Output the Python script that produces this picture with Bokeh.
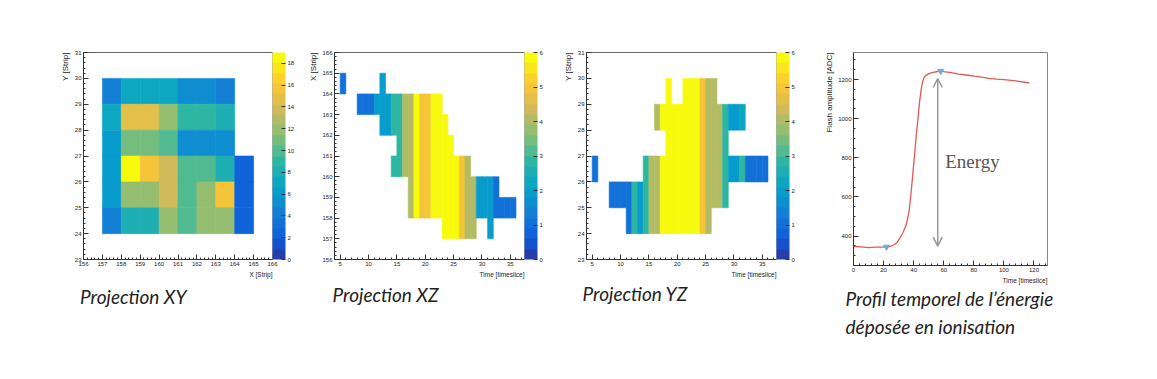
import numpy as np
from bokeh.plotting import figure
from bokeh.models import (Range1d, LinearColorMapper, ColorBar, FixedTicker,
                          SingleIntervalTicker, Label, Arrow, OpenHead, ColumnDataSource, Title)
from bokeh.layouts import row
from bokeh.embed import file_html
from bokeh.resources import INLINE

# ---------------- data ----------------
# Projection XY : rows of strip Y (lower edge), columns start at X strip 157
xy_rows = [29, 28, 27, 26, 25, 24]
xy_x0 = 157
xy_vals = [
    [4.0, 7.0, 7.0, 7.0, 5.0, 5.5, 4.5],
    [7.5, 14.5, 14.5, 12.0, 9.0, 9.0, 8.0],
    [6.5, 11.0, 11.0, 10.0, 5.5, 5.5, 5.0],
    [6.5, 19.0, 16.0, 14.0, 10.0, 10.0, 8.5, 2.0],
    [6.5, 12.0, 12.0, 14.0, 10.0, 12.0, 15.5, 2.0],
    [4.0, 8.5, 8.5, 12.0, 10.0, 12.0, 12.0, 2.0],
]

# Projection XZ : time bin, strip X low/high, charge
xz_t = [5, 8, 9, 10, 11, 12, 13, 14, 14, 15, 16, 17, 18, 19, 20, 21, 22, 23, 24, 25,
        26, 27, 28, 29, 30, 31, 32, 33, 34, 35]
xz_lo = [164, 163, 163, 163, 163, 162, 162, 162, 160, 160, 160, 158, 158, 158, 158, 158, 158, 157, 157, 157,
         157, 157, 157, 158, 158, 157, 158, 158, 158, 158]
xz_hi = [165, 164, 164, 164, 164, 165, 164, 164, 161, 164, 164, 164, 164, 164, 164, 164, 164, 163, 162, 161,
         161, 161, 160, 160, 160, 160, 160, 159, 159, 159]
xz_v = [1.0, 1.0, 1.0, 1.0, 2.0, 2.0, 2.0, 2.8, 2.8, 2.8, 4.0, 4.0, 6.0, 5.0, 5.0, 6.0, 6.0, 6.0, 6.0, 6.0,
        5.0, 4.0, 4.0, 2.0, 2.0, 2.0, 1.0, 1.0, 1.0, 1.0]

# Projection YZ : time bin, strip Y low/high, charge
yz_t = [5, 8, 9, 10, 11, 12, 13, 14, 15, 16, 16, 17, 17, 18, 19, 20, 21, 22, 23, 24,
        25, 26, 27, 28, 29, 29, 30, 30, 31, 31, 32, 33, 34, 35]
yz_lo = [26, 25, 25, 25, 24, 24, 24, 24, 24, 24, 28, 24, 28, 24, 24, 24, 24, 24, 24, 24,
         24, 25, 25, 25, 26, 28, 26, 28, 26, 28, 26, 26, 26, 26]
yz_hi = [27, 26, 26, 26, 26, 26, 26, 27, 27, 27, 29, 27, 29, 30, 29, 29, 30, 30, 30, 30,
         30, 30, 29, 29, 27, 29, 27, 29, 27, 29, 27, 27, 27, 27]
yz_v = [1.0, 1.0, 1.0, 1.0, 1.0, 2.8, 2.0, 2.8, 4.0, 4.0, 4.0, 6.0, 6.0, 6.0, 6.0, 6.0, 6.0, 6.0, 6.0, 5.0,
        4.0, 4.0, 4.0, 2.8, 2.0, 2.0, 2.0, 2.0, 2.8, 2.3, 1.0, 1.0, 1.0, 1.0]

# Temporal profile of ionisation energy
prof_t = [0, 5, 10, 15, 20, 22, 25, 27, 29, 31, 33, 35, 36, 37, 38, 39, 40, 41, 42, 43,
          44, 45, 46, 47, 48, 50, 53, 56, 58, 60, 65, 70, 75, 80, 85, 90, 95, 100, 105, 110,
          114, 117]
prof_amp = [347, 345, 341, 344, 344, 345, 349, 356, 368, 392, 420, 458, 490, 530, 600, 680, 765, 850, 935, 1010,
            1090, 1150, 1190, 1210, 1220, 1230, 1237, 1241, 1243, 1240, 1235, 1228, 1223, 1217, 1212, 1206, 1202, 1199, 1196, 1191,
            1186, 1182]
mark_t = [22, 58]
mark_amp = [345, 1243]

xy_ticks = list(range(0, 19, 2))
z_ticks = [0, 1, 2, 3, 4, 5, 6]

captions = ["Projection XY", "Projection XZ", "Projection YZ",
            "Profil temporel de l\u2019\u00e9nergie", "d\u00e9pos\u00e9e en ionisation"]

# ---------------- kBird palette (ROOT) ----------------
b_stops = [0.0, 0.125, 0.25, 0.375, 0.5, 0.625, 0.75, 0.875, 1.0]
b_r = [0.2082, 0.0592, 0.0780, 0.0232, 0.1802, 0.5301, 0.8186, 0.9956, 0.9764]
b_g = [0.1664, 0.3599, 0.5041, 0.6419, 0.7178, 0.7492, 0.7328, 0.7862, 0.9832]
b_b = [0.5293, 0.8684, 0.8385, 0.7914, 0.6425, 0.4662, 0.3499, 0.1968, 0.0539]


def bird(n):
    out = []
    for i in range(n):
        s = (i + 1) / n
        r = np.interp(s, b_stops, b_r)
        g = np.interp(s, b_stops, b_g)
        b = np.interp(s, b_stops, b_b)
        out.append("#%02x%02x%02x" % (int(r * 255), int(g * 255), int(b * 255)))
    return out


PAL = bird(20)
AX_FONT = "Liberation Sans"


def base_fig(xr, yr, fw, fh, lb, rb, tb, bb):
    p = figure(x_range=Range1d(*xr), y_range=Range1d(*yr), frame_width=fw, frame_height=fh,
               min_border_left=lb, min_border_right=rb, min_border_top=tb, min_border_bottom=bb,
               toolbar_location=None, tools="", output_backend="svg")
    p.grid.visible = False
    p.outline_line_color = "#666666"
    p.background_fill_color = "white"
    p.border_fill_color = "white"
    for ax in (p.xaxis, p.yaxis):
        ax.major_tick_in = 5
        ax.major_tick_out = 0
        ax.minor_tick_in = 2
        ax.minor_tick_out = 0
        ax.major_label_standoff = 2
        ax.major_label_text_font = AX_FONT
        ax.major_label_text_font_size = "6px"
        ax.major_label_text_color = "#222222"
        ax.axis_line_color = "#333333"
        ax.major_tick_line_color = "#333333"
        ax.minor_tick_line_color = "#333333"
    return p


def titles(p, ytxt, xtxt, y_standoff=4, x_standoff=0):
    p.add_layout(Title(text=ytxt, align="right", text_font=AX_FONT, text_font_size="8px",
                       text_font_style="normal", text_color="#222222", standoff=y_standoff), "left")
    p.add_layout(Title(text=xtxt, align="right", text_font=AX_FONT, text_font_size="6.5px",
                       text_font_style="normal", text_color="#222222", standoff=x_standoff), "below")


def caption(p, txt, offset, standoff):
    p.add_layout(Title(text=txt, align="left", offset=offset, standoff=standoff,
                       text_font="Lato", text_font_style="italic", text_font_size="19px",
                       text_color="#222222"), "below")


def colorbar(p, mapper, ticks):
    cb = ColorBar(color_mapper=mapper, ticker=FixedTicker(ticks=ticks), width=13,
                  padding=0, margin=0, label_standoff=2,
                  major_label_text_font=AX_FONT, major_label_text_font_size="6px",
                  major_label_text_color="#222222",
                  major_tick_in=4, major_tick_out=0, major_tick_line_color="#333333",
                  bar_line_color=None, border_line_color=None, background_fill_color="white")
    p.add_layout(cb, "right")


def heat(p, src, mapper):
    p.quad(left="left", right="right", bottom="bottom", top="top",
           fill_color={"field": "v", "transform": mapper},
           line_color={"field": "v", "transform": mapper}, line_width=0.6, source=src)


# ---------------- Fig 1 : XY ----------------
FH = 207
p1 = base_fig((156, 166), (23, 31), 189, FH, 83, 28, 52, 111)
l, r, b, t, v = [], [], [], [], []
for yy, vals in zip(xy_rows, xy_vals):
    for i, val in enumerate(vals):
        l.append(xy_x0 + i); r.append(xy_x0 + i + 1); b.append(yy); t.append(yy + 1); v.append(val)
m1 = LinearColorMapper(palette=PAL, low=0, high=19)
heat(p1, ColumnDataSource(dict(left=l, right=r, bottom=b, top=t, v=v)), m1)
p1.xaxis.ticker = SingleIntervalTicker(interval=1, num_minor_ticks=5)
p1.yaxis.ticker = SingleIntervalTicker(interval=1, num_minor_ticks=5)
colorbar(p1, m1, xy_ticks)
titles(p1, "Y [Strip]", "X [Strip]")
caption(p1, captions[0], -3.5, 11)

# ---------------- Fig 2 : XZ ----------------
m2 = LinearColorMapper(palette=PAL, low=0, high=6)
p2 = base_fig((4, 37.5), (156, 166), 190, FH, 34, 28, 52, 111)
heat(p2, ColumnDataSource(dict(left=xz_t, right=[a + 1 for a in xz_t], bottom=xz_lo, top=xz_hi, v=xz_v)), m2)
p2.xaxis.ticker = SingleIntervalTicker(interval=5, num_minor_ticks=5)
p2.yaxis.ticker = SingleIntervalTicker(interval=1, num_minor_ticks=5)
colorbar(p2, m2, z_ticks)
titles(p2, "X [Strip]", "Time [timeslice]")
caption(p2, captions[1], -2, 6)

# ---------------- Fig 3 : YZ ----------------
p3 = base_fig((4, 37.5), (23, 31), 190, FH, 34, 29, 52, 111)
heat(p3, ColumnDataSource(dict(left=yz_t, right=[a + 1 for a in yz_t], bottom=yz_lo, top=yz_hi, v=yz_v)), m2)
p3.xaxis.ticker = SingleIntervalTicker(interval=5, num_minor_ticks=5)
p3.yaxis.ticker = SingleIntervalTicker(interval=1, num_minor_ticks=5)
colorbar(p3, m2, z_ticks)
titles(p3, "Y [Strip]", "Time [timeslice]")
caption(p3, captions[2], -4, 5)

# ---------------- Fig 4 : profile ----------------
p4 = base_fig((0, 129), (250, 1338), 194, 213, 48, 100, 50, 107)
p4.outline_line_color = "#888888"
p4.line(prof_t, prof_amp, line_color="#e05a50", line_width=1.3)
p4.scatter(mark_t, mark_amp, marker="inverted_triangle", size=6, fill_color="#78a6d8",
           line_color="#78a6d8")
p4.xaxis.ticker = SingleIntervalTicker(interval=20, num_minor_ticks=5)
p4.yaxis.ticker = SingleIntervalTicker(interval=200, num_minor_ticks=4)
arrow_t = 56
p4.add_layout(Arrow(x_start=arrow_t, y_start=mark_amp[1] - 38, x_end=arrow_t, y_end=mark_amp[0] + 4,
                    line_color="#999999", line_width=1.5,
                    start=OpenHead(size=9, line_color="#999999", line_width=1.5),
                    end=OpenHead(size=9, line_color="#999999", line_width=1.5)))
p4.add_layout(Label(x=61, y=782, text="Energy", text_font="Liberation Serif", text_font_size="19px",
                    text_color="#555555", text_baseline="alphabetic"))
titles(p4, "Flash amplitude [ADC]", "Time [timeslice]", 4, 1)
caption(p4, captions[3], -8, 1)
caption(p4, captions[4], -8, 4)

layout = row(p1, p2, p3, p4, spacing=0)
open("out.html", "w").write(file_html(layout, INLINE))
